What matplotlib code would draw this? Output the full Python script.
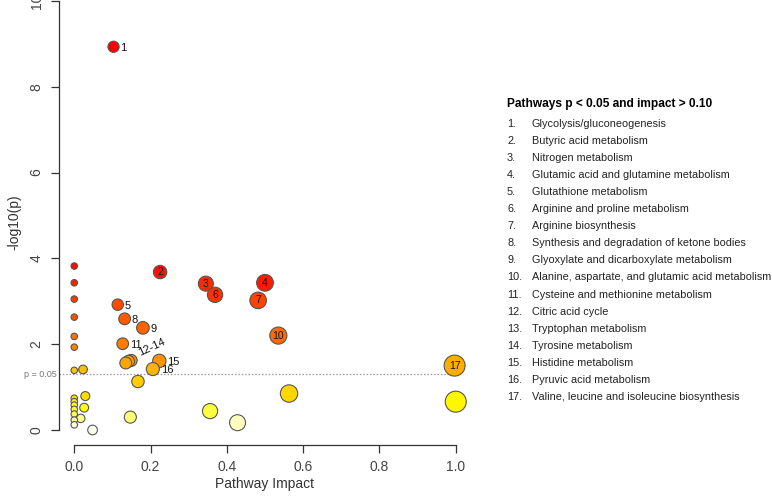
import colorsys
import numpy as np
import matplotlib.pyplot as plt

plt.rcParams['font.family'] = ['Liberation Sans', 'DejaVu Sans']

# labelled pathways (impact, -log10 p)
lab_names = ['1', '2', '3', '4', '5', '6', '7', '8', '9', '10', '11',
             '12-14', '12-14', '12-14', '15', '16', '17']
lab_impact = [0.103, 0.225, 0.345, 0.500, 0.114, 0.369, 0.482, 0.132, 0.180,
              0.535, 0.127, 0.149, 0.142, 0.135, 0.223, 0.206, 0.997]
lab_logp = [8.93, 3.68, 3.41, 3.43, 2.92, 3.15, 3.02, 2.59, 2.38,
            2.20, 2.01, 1.62, 1.60, 1.56, 1.61, 1.42, 1.50]

# other pathways
oth_impact = [0, 0, 0, 0, 0, 0, 0, 0, 0, 0, 0, 0, 0, 0,
              0.023, 0.029, 0.026, 0.017, 0.048, 0.147, 0.167,
              0.356, 0.428, 0.563, 1.0]
oth_logp = [3.82, 3.43, 3.05, 2.63, 2.18, 1.93, 1.39, 0.74, 0.66, 0.58,
            0.48, 0.37, 0.23, 0.12,
            1.41, 0.79, 0.52, 0.27, 0.0, 0.30, 1.13,
            0.44, 0.17, 0.85, 0.66]

pathways = ['Glycolysis/gluconeogenesis', 'Butyric acid metabolism',
            'Nitrogen metabolism', 'Glutamic acid and glutamine metabolism',
            'Glutathione metabolism', 'Arginine and proline metabolism',
            'Arginine biosynthesis', 'Synthesis and degradation of ketone bodies',
            'Glyoxylate and dicarboxylate metabolism',
            'Alanine, aspartate, and glutamic acid metabolism',
            'Cysteine and methionine metabolism', 'Citric acid cycle',
            'Tryptophan metabolism', 'Tyrosine metabolism',
            'Histidine metabolism', 'Pyruvic acid metabolism',
            'Valine, leucine and isoleucine biosynthesis']

inside = ['2', '3', '4', '6', '7', '10', '17']


def heat_colors(n):
    # same as R heat.colors
    j = n // 4
    i = n - j
    cols = [colorsys.hsv_to_rgb(h, 1, 1) for h in np.linspace(0, 1 / 6, i)]
    if j > 0:
        for s in np.linspace(1 - 1 / (2 * j), 1 / (2 * j), j):
            cols.append(colorsys.hsv_to_rgb(1 / 6, s, 1))
    return cols


imp = np.array(lab_impact + oth_impact)
lp = np.array(lab_logp + oth_logp)
names = lab_names + [''] * len(oth_impact)
order = np.argsort(-lp, kind='stable')
cols = heat_colors(len(lp))
diam = 6.5 + 14.5 * np.sqrt(imp)  # pixels
sizes = (diam * 0.72) ** 2

fig = plt.figure(figsize=(7.72, 4.96), dpi=100)
ax = fig.add_axes([59 / 772, 51 / 496, 412 / 772, 445 / 496])
ax.set_xlim(-0.04, 1.04)
ax.set_ylim(-0.35, 10.02)

ax.axhline(-np.log10(0.05), xmin=0, xmax=0.973, color='#999999',
           ls=(0, (1.2, 1.5)), lw=0.9, zorder=1)
ax.text(-0.045, -np.log10(0.05), 'p = 0.05', ha='right', va='center',
        fontsize=6.5, color='#777777', clip_on=False)

ax.scatter(imp[order], lp[order], s=sizes[order],
           c=[cols[r] for r in range(len(order))],
           edgecolors='#555555', linewidths=0.8, zorder=3)

done = set()
for k in range(len(imp)):
    nm = names[k]
    if not nm or nm in done:
        continue
    done.add(nm)
    if nm in inside:
        ax.text(imp[k], lp[k], nm, ha='center', va='center', fontsize=7.5,
                color='#111111', zorder=4)
    elif nm == '12-14':
        ax.annotate(nm, (imp[k], lp[k]), xytext=(4, 2), textcoords='offset points',
                    ha='left', va='bottom', fontsize=8, rotation=25,
                    color='#111111', zorder=4)
    else:
        ax.annotate(nm, (imp[k], lp[k]), xytext=(diam[k] * 0.36 + 1, -1),
                    textcoords='offset points', ha='left', va='center',
                    fontsize=8, color='#111111', zorder=4)

for s in ['top', 'right']:
    ax.spines[s].set_visible(False)
ax.spines['left'].set_bounds(0, 10)
ax.spines['bottom'].set_bounds(0, 1)
for s in ['left', 'bottom']:
    ax.spines[s].set_color('#333333')
    ax.spines[s].set_linewidth(0.9)
ax.set_xticks(np.arange(0, 1.01, 0.2))
ax.set_xticklabels(['0.0', '0.2', '0.4', '0.6', '0.8', '1.0'])
ax.set_yticks([0, 2, 4, 6, 8, 10])
ax.tick_params(axis='both', length=6, width=0.9, color='#333333',
               labelsize=10, labelcolor='#444444', pad=5)
plt.setp(ax.get_yticklabels(), rotation=90, va='center')
ax.set_xlabel('Pathway Impact', fontsize=10, color='#333333', labelpad=2)
ax.set_ylabel('-log10(p)', fontsize=10, color='#333333', labelpad=6)

fig.text(507 / 772, 1 - 104 / 496, 'Pathways p < 0.05 and impact > 0.10',
         fontsize=8.6, fontweight='bold', va='center', ha='left')
for k, nm in enumerate(pathways):
    y = 1 - (124 + 17.05 * k) / 496
    fig.text(507 / 772, y, f'{k + 1}.', fontsize=7.8, va='center', ha='left',
             color='#222222')
    fig.text(532 / 772, y, nm, fontsize=7.8, va='center', ha='left',
             color='#222222')

fig.savefig('out.png', dpi=100, facecolor='white')
